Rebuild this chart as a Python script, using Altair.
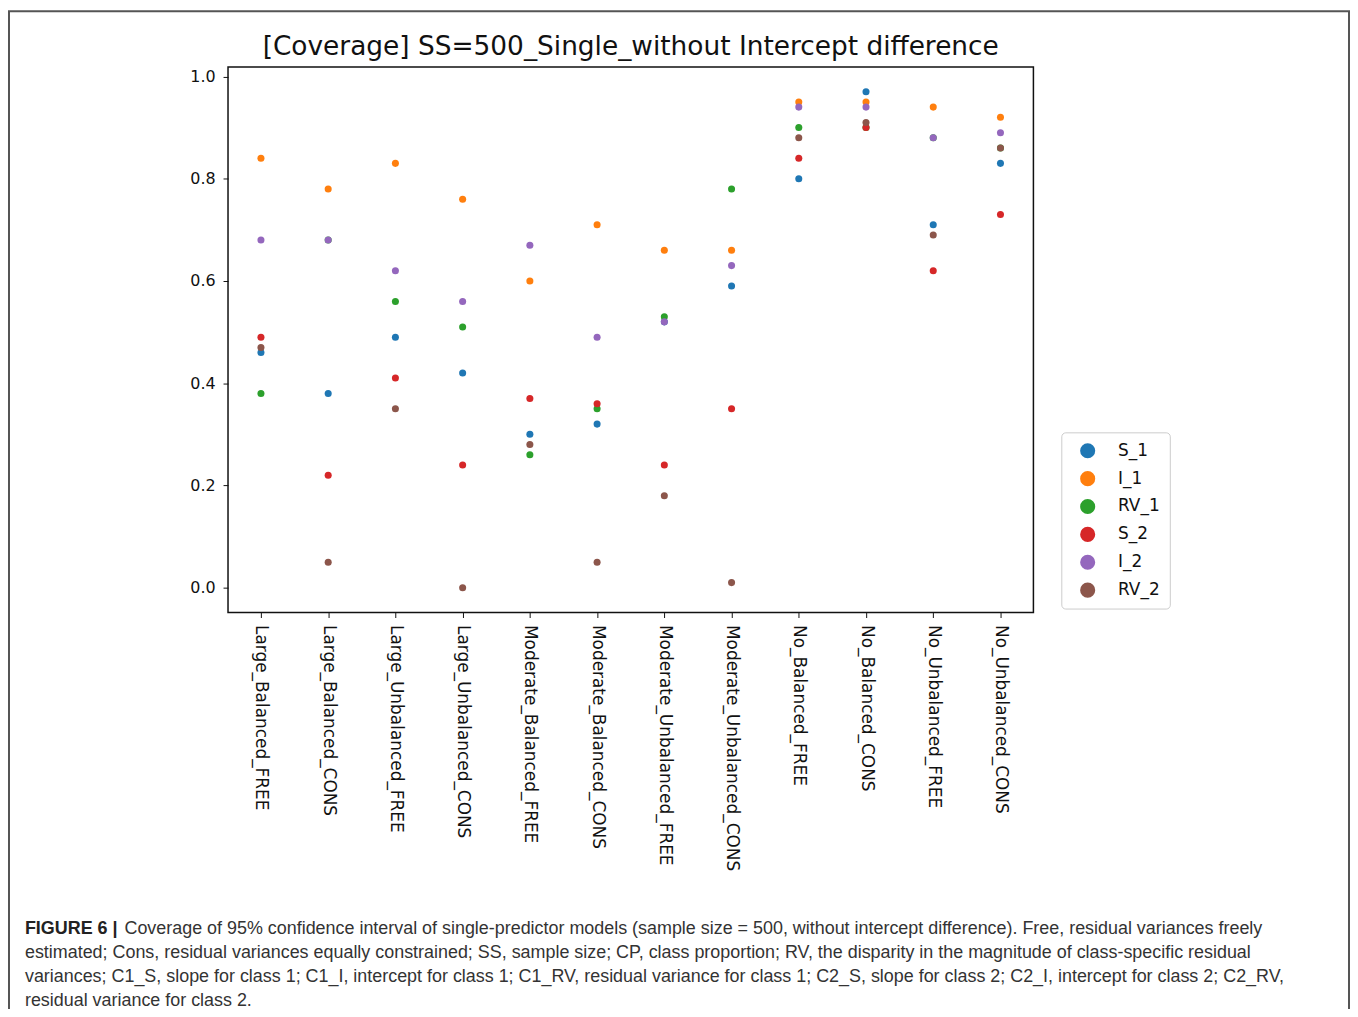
import altair as alt
import pandas as pd

categories = [
    "Large_Balanced_FREE", "Large_Balanced_CONS", "Large_Unbalanced_FREE", "Large_Unbalanced_CONS",
    "Moderate_Balanced_FREE", "Moderate_Balanced_CONS", "Moderate_Unbalanced_FREE", "Moderate_Unbalanced_CONS",
    "No_Balanced_FREE", "No_Balanced_CONS", "No_Unbalanced_FREE", "No_Unbalanced_CONS",
]
series = ["S_1", "I_1", "RV_1", "S_2", "I_2", "RV_2"]

s_1 = [0.46, 0.38, 0.49, 0.42, 0.30, 0.32, 0.52, 0.59, 0.80, 0.97, 0.71, 0.83]
i_1 = [0.84, 0.78, 0.83, 0.76, 0.60, 0.71, 0.66, 0.66, 0.95, 0.95, 0.94, 0.92]
rv_1 = [0.38, 0.68, 0.56, 0.51, 0.26, 0.35, 0.53, 0.78, 0.90, 0.90, 0.88, 0.86]
s_2 = [0.49, 0.22, 0.41, 0.24, 0.37, 0.36, 0.24, 0.35, 0.84, 0.90, 0.62, 0.73]
i_2 = [0.68, 0.68, 0.62, 0.56, 0.67, 0.49, 0.52, 0.63, 0.94, 0.94, 0.88, 0.89]
rv_2 = [0.47, 0.05, 0.35, 0.00, 0.28, 0.05, 0.18, 0.01, 0.88, 0.91, 0.69, 0.86]

colors = ["#1f77b4", "#ff7f0e", "#2ca02c", "#d62728", "#9467bd", "#8c564b"]
y_ticks = [0.0, 0.2, 0.4, 0.6, 0.8, 1.0]

title_text = "[Coverage] SS=500_Single_without Intercept difference"
caption_bold = "FIGURE 6 |"
caption_line1 = ("Coverage of 95% confidence interval of single-predictor models (sample size = 500, "
                 "without intercept difference). Free, residual variances freely")
caption_rest = [
    "estimated; Cons, residual variances equally constrained; SS, sample size; CP, class proportion; "
    "RV, the disparity in the magnitude of class-specific residual",
    "variances; C1_S, slope for class 1; C1_I, intercept for class 1; C1_RV, residual variance for "
    "class 1; C2_S, slope for class 2; C2_I, intercept for class 2; C2_RV,",
    "residual variance for class 2.",
]

rows = []
for name, vals in zip(series, [s_1, i_1, rv_1, s_2, i_2, rv_2]):
    for c, v in zip(categories, vals):
        rows.append({"condition": c, "series": name, "coverage": v})
df = pd.DataFrame(rows)

points = alt.Chart(df).mark_circle(size=50, opacity=1).encode(
    x=alt.X(
        "condition:N", sort=categories,
        scale=alt.Scale(type="point", padding=0.49),
        axis=alt.Axis(title=None, labelAngle=90, labelAlign="left", labelBaseline="middle",
                      labelFont="DejaVu Sans", labelFontSize=17, labelColor="#111",
                      labelLimit=0, tickSize=5, tickColor="#111", labelPadding=7,
                      domain=False, grid=False),
    ),
    y=alt.Y(
        "coverage:Q",
        scale=alt.Scale(domain=[-0.0485, 1.0185], nice=False, zero=False),
        axis=alt.Axis(title=None, values=y_ticks, format=".1f", labelFont="DejaVu Sans",
                      labelFontSize=16, labelColor="#111", tickSize=5, tickColor="#111",
                      labelPadding=8, domain=False, grid=False),
    ),
    color=alt.Color(
        "series:N", sort=series,
        scale=alt.Scale(domain=series, range=colors),
        legend=alt.Legend(title=None, orient="none", legendX=837, legendY=367,
                          symbolType="circle", symbolSize=230, symbolOffset=8,
                          labelFont="DejaVu Sans", labelFontSize=17, labelColor="#111",
                          labelOffset=22, rowPadding=10, padding=10,
                          strokeColor="#cccccc", fillColor="white", cornerRadius=4),
    ),
)

frame = alt.Chart(pd.DataFrame({"k": [0]})).mark_rect(
    filled=False, stroke="#555555", strokeWidth=2
).encode(x=alt.value(-220), x2=alt.value(1126), y=alt.value(-56), y2=alt.value(1000))

title_mark = alt.Chart(pd.DataFrame({"t": [title_text]})).mark_text(
    align="center", baseline="alphabetic", font="DejaVu Sans", fontSize=26.5, color="#111111"
).encode(x=alt.value(404.5), y=alt.value(-12), text="t:N")

cap_bold = alt.Chart(pd.DataFrame({"t": [caption_bold]})).mark_text(
    align="left", baseline="alphabetic", font="Liberation Sans", fontSize=18,
    fontWeight="bold", color="#222222"
).encode(x=alt.value(-204), y=alt.value(871), text="t:N")

cap_line1 = alt.Chart(pd.DataFrame({"t": [caption_line1]})).mark_text(
    align="left", baseline="alphabetic", font="Liberation Sans", fontSize=18, color="#333333"
).encode(x=alt.value(-104), y=alt.value(871), text="t:N")

cap_rest = alt.Chart(pd.DataFrame({"t": ["\n".join(caption_rest)]})).mark_text(
    align="left", baseline="alphabetic", font="Liberation Sans", fontSize=18, color="#333333",
    lineBreak="\n", lineHeight=24
).encode(x=alt.value(-204), y=alt.value(895), text="t:N")

chart = alt.layer(frame, points, title_mark, cap_bold, cap_line1, cap_rest).properties(
    width=809, height=548,
    background="white",
    autosize=alt.AutoSizeParams(type="none"),
    padding={"left": 221, "top": 57, "right": 318, "bottom": 396},
).configure_view(stroke="#111111", strokeWidth=1.5)

chart.save("out.html", embed_options={"renderer": "svg", "actions": False})
